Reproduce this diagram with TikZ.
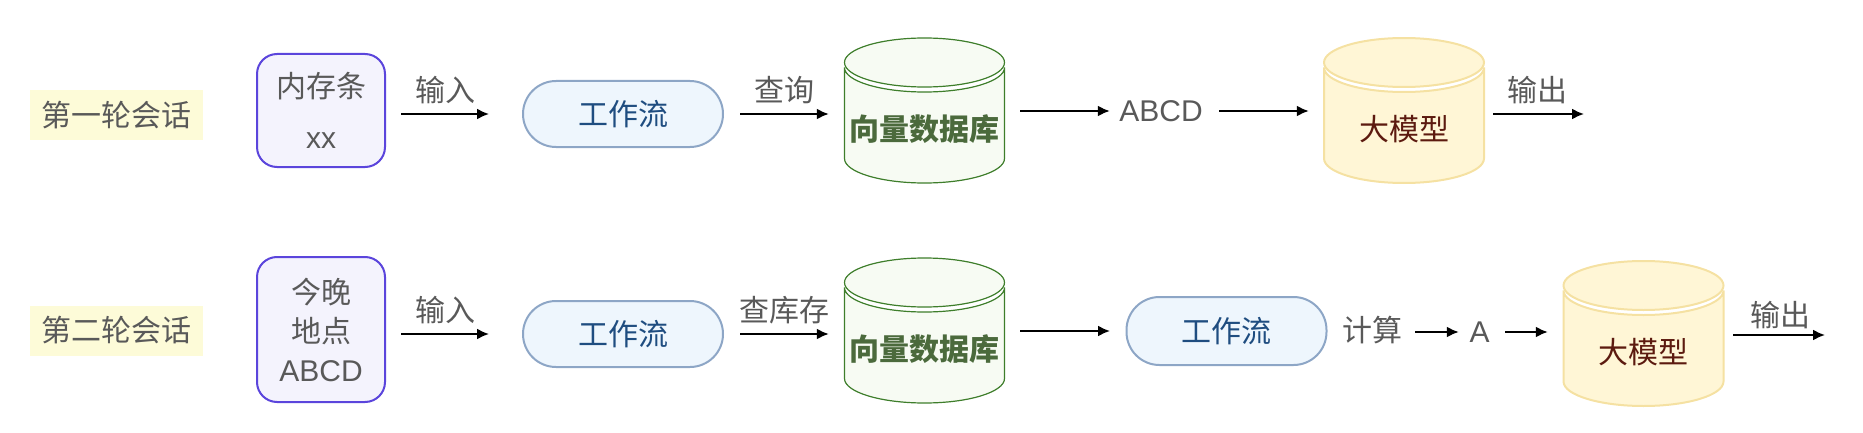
\documentclass[tikz,border=0pt]{standalone}
\usepackage{fontspec}
\setmainfont{Liberation Sans}
\newfontfamily\cjk{Noto Sans CJK SC}
\usetikzlibrary{arrows.meta}

\definecolor{labelbg}{HTML}{FDFBD8}
\definecolor{textgray}{HTML}{595959}
\definecolor{memline}{HTML}{5B45DC}
\definecolor{memfill}{HTML}{F4F3FD}
\definecolor{flowline}{HTML}{8DA6C6}
\definecolor{flowfill}{HTML}{EEF6FD}
\definecolor{flowtext}{HTML}{1F4D80}
\definecolor{dbline}{HTML}{3E7E2B}
\definecolor{dbfill}{HTML}{F7FBF3}
\definecolor{dbtext}{HTML}{4B6A3C}
\definecolor{llmline}{HTML}{F5E1A2}
\definecolor{llmfill}{HTML}{FFF6D6}
\definecolor{llmtext}{HTML}{5C1A0F}

\tikzset{
  session/.style={fill=labelbg, inner sep=0, minimum width=173pt, minimum height=50pt,
    text=textgray, font=\cjk\fontsize{30}{36}\selectfont},
  memo/.style={draw=memline, fill=memfill, line width=2pt, rounded corners=20pt,
    inner sep=0, minimum width=128pt, align=center, text=textgray,
    font=\fontsize{30}{36}\selectfont},
  pill/.style={draw=flowline, fill=flowfill, line width=2pt, rounded corners=33pt,
    inner sep=0, minimum width=200pt, minimum height=66pt, text=flowtext,
    font=\cjk\fontsize{30}{36}\selectfont},
  db shape/.style={fill=dbfill, draw=dbline, line width=1.2pt},
  db label/.style={inner sep=0, text=dbtext, font=\cjk\bfseries\fontsize{30}{36}\selectfont},
  llm shape/.style={fill=llmfill, draw=llmline, line width=2pt},
  llm label/.style={inner sep=0, text=llmtext, font=\cjk\fontsize{30}{36}\selectfont},
  plain/.style={inner sep=0, text=textgray, font=\fontsize{30}{36}\selectfont},
  edgetext/.style={inner sep=0, text=textgray, font=\cjk\fontsize{30}{36}\selectfont},
  flow/.style={->, >={Latex[length=12pt,width=11pt]}, line width=2pt},
}

% drum: name, x, y, kind (db/llm), text
\newcommand{\dbdrum}[5]{%
  \begin{scope}[shift={(#2,#3)}]
    \filldraw[#4 shape] (-80,43) -- (-80,-48)
      arc[start angle=180, end angle=360, x radius=80pt, y radius=24.5pt] -- (80,43)
      arc[start angle=0, end angle=-180, x radius=80pt, y radius=24.5pt] -- cycle;
    \filldraw[#4 shape] (0,48) ellipse [x radius=80pt, y radius=24.5pt];
  \end{scope}
  \node[inner sep=0, minimum width=160pt, minimum height=145pt] (#1) at (#2,#3) {};
  \node[#4 label] (#1txt) at (#2,#3-19) {#5};
}

\begin{document}
\begin{tikzpicture}[x=1pt, y=1pt]
\useasboundingbox (0,0) rectangle (1863,432);

\node[session] (s1) at (116.5,317) {第一轮会话};
\node[session] (s2) at (116.5,101.5) {第二轮会话};

\node[memo, minimum height=113pt] (m1) at (321,321.5) {{\cjk 内存条}\\[15pt]xx};
\node[memo, minimum height=145pt, font=\fontsize{30}{39}\selectfont] (m2) at (321,102.5)
  {{\cjk 今晚}\\{\cjk 地点}\\ABCD};

\node[pill] (w1) at (623,318) {工作流};
\node[pill] (w2) at (623,98) {工作流};
\node[pill, minimum height=68pt] (w3) at (1226.5,101) {工作流};

\dbdrum{db1}{924.5}{321.5}{db}{向量数据库}
\dbdrum{db2}{924.5}{101.5}{db}{向量数据库}
\dbdrum{llm1}{1404}{321.5}{llm}{大模型}
\dbdrum{llm2}{1643.5}{98.5}{llm}{大模型}

\node[plain] (abcd) at (1161,321) {ABCD};
\node[edgetext] (calc) at (1372,102) {计算};
\node[plain] (ans) at (1479.5,100) {A};
\coordinate (out1) at (1584,318);
\coordinate (out2) at (1825,97);

% first round
\draw[flow, shorten <=15pt, shorten >=33pt] (m1.east |- w1) -- (w1.west)
  node[pos=0.435, yshift=24pt, edgetext] (l1) {输入};
\draw[flow, shorten <=16pt, shorten >=15.5pt] (w1.east) -- (db1.west |- w1)
  node[midway, yshift=24pt, edgetext] (l2) {查询};
\draw[flow, shorten <=15.5pt, shorten >=9.3pt] (db1.east |- abcd) -- (abcd.west);
\draw[flow, shorten <=16.3pt, shorten >=15pt] (abcd.east) -- (llm1.west |- abcd);
\draw[flow, shorten <=9pt] (llm1.east |- out1) -- (out1)
  node[pos=0.53, yshift=24pt, edgetext] (l3) {输出};

% second round
\draw[flow, shorten <=15pt, shorten >=33pt] (m2.east |- w2) -- (w2.west)
  node[pos=0.435, yshift=24pt, edgetext] (l4) {输入};
\draw[flow, shorten <=16pt, shorten >=15.5pt] (w2.east) -- (db2.west |- w2)
  node[midway, yshift=24pt, edgetext] (l5) {查库存};
\draw[flow, shorten <=15.5pt, shorten >=15.5pt] (db2.east |- w3) -- (w3.west);
\draw[flow, shorten <=13pt, shorten >=10.5pt] (calc.east |- ans) -- (ans.west);
\draw[flow, shorten <=15.5pt, shorten >=15.5pt] (ans.east) -- (llm2.west |- ans);
\draw[flow, shorten <=9.5pt] (llm2.east |- out2) -- (out2)
  node[pos=0.557, yshift=20pt, edgetext] (l6) {输出};
\end{tikzpicture}
\end{document}
